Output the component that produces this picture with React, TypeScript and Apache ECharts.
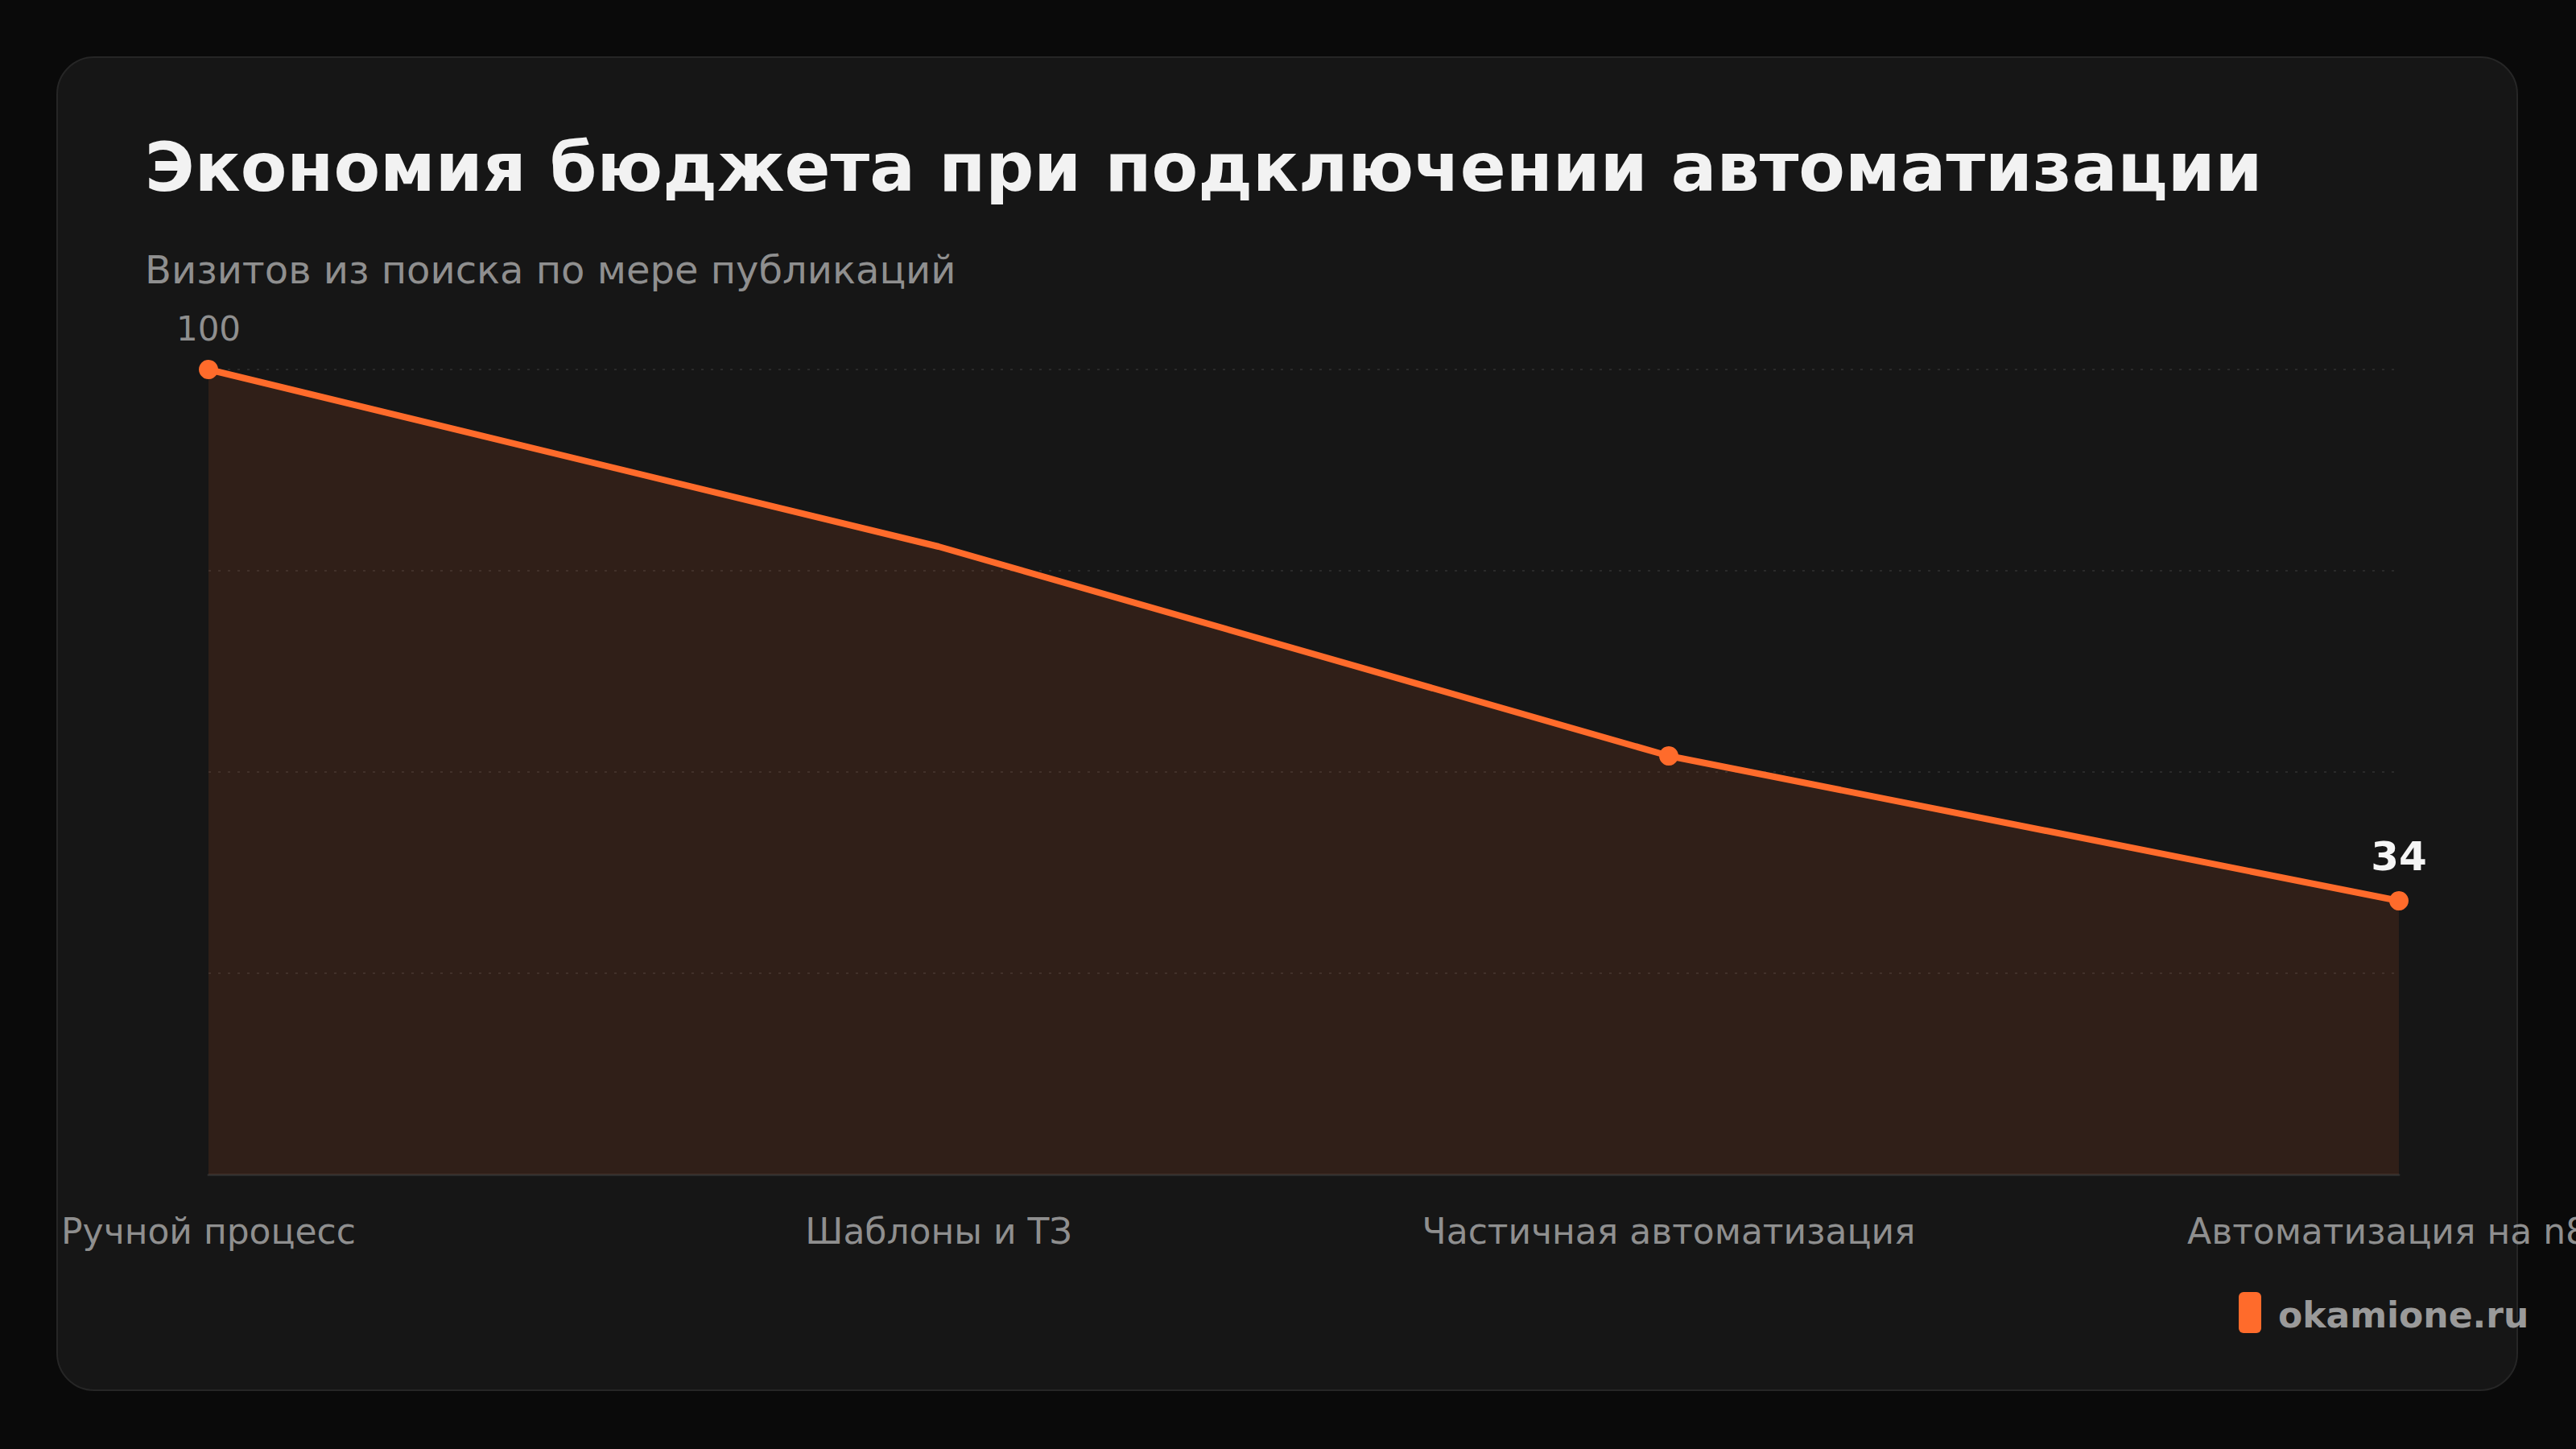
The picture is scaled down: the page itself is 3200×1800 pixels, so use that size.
import { useEffect, useRef } from 'react';
import * as echarts from 'echarts';

const stages = ['Ручной процесс', 'Шаблоны и ТЗ', 'Частичная автоматизация', 'Автоматизация на n8n'];
const budget = [100, 78, 52, 34];
const markerShown = [true, false, true, true];

const ORANGE = '#FF6B2B';
const FONT = 'DejaVu Sans';

export default function App() {
  const ref = useRef<HTMLDivElement | null>(null);

  useEffect(() => {
    document.body.style.margin = '0';
    document.body.style.background = '#0a0a0a';
    if (!ref.current) return;
    const chart = echarts.init(ref.current, undefined, { renderer: 'svg' });
    const last = budget.length - 1;
    chart.setOption({
      animation: false,
      backgroundColor: '#0a0a0a',
      textStyle: { fontFamily: FONT },
      grid: { left: 259, right: 220, top: 459, bottom: 341, outerBoundsMode: 'none', containLabel: false },
      graphic: [
        {
          type: 'rect',
          z: -10,
          shape: { x: 71, y: 71, width: 3056, height: 1656, r: 46 },
          style: { fill: '#161616', stroke: '#262626', lineWidth: 2 },
        },
        {
          type: 'text',
          x: 180,
          y: 208,
          style: {
            text: 'Экономия бюджета при подключении автоматизации',
            fill: '#f2f2f2',
            font: `bold 84px "${FONT}"`,
            verticalAlign: 'middle',
          },
        },
        {
          type: 'text',
          x: 180,
          y: 335,
          style: {
            text: 'Визитов из поиска по мере публикаций',
            fill: '#8f8f8f',
            font: `48px "${FONT}"`,
            verticalAlign: 'middle',
          },
        },
        {
          type: 'rect',
          shape: { x: 2781, y: 1605, width: 28, height: 51, r: 6 },
          style: { fill: ORANGE },
        },
        {
          type: 'text',
          x: 2830,
          y: 1633,
          style: {
            text: 'okamione.ru',
            fill: '#9a9a9a',
            font: `bold 44px "${FONT}"`,
            verticalAlign: 'middle',
          },
        },
      ],
      xAxis: {
        type: 'category',
        data: stages,
        boundaryGap: false,
        axisLine: { show: true, lineStyle: { color: '#2c2c2c', width: 3 } },
        axisTick: { show: false },
        axisLabel: { color: '#8f8f8f', fontSize: 44, margin: 48, fontFamily: FONT },
        splitLine: { show: false },
      },
      yAxis: {
        type: 'value',
        min: 0,
        max: 100,
        interval: 25,
        axisLine: { show: false },
        axisTick: { show: false },
        axisLabel: { show: false },
        splitLine: { show: true, lineStyle: { color: '#2a2a2a', type: [3, 9], width: 2 } },
      },
      series: [
        {
          type: 'line',
          data: budget.map((v, i) => ({
            value: v,
            symbol: markerShown[i] ? 'circle' : 'none',
            label:
              i === 0
                ? { show: true, color: '#8f8f8f', fontSize: 42, fontWeight: 'normal' }
                : i === last
                ? { show: true, color: '#f5f5f5', fontSize: 50, fontWeight: 'bold' }
                : { show: false },
          })),
          symbolSize: 24,
          lineStyle: { color: ORANGE, width: 8 },
          itemStyle: { color: ORANGE },
          areaStyle: { color: 'rgba(255,107,43,0.16)' },
          label: { position: 'top', distance: 18, fontFamily: FONT },
        },
      ],
    });
    return () => chart.dispose();
  }, []);

  return <div ref={ref} style={{ width: 3200, height: 1800 }} />;
}
